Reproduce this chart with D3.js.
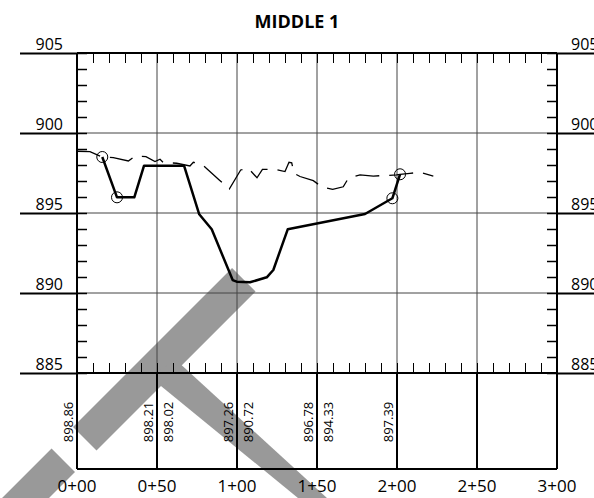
<!DOCTYPE html>
<html>
<head>
<meta charset="utf-8">
<script src="https://cdn.jsdelivr.net/npm/d3@7"></script>
<style>
  body { margin: 0; background: #fff; }
  text { font-family: "Open Sans", "Noto Sans", sans-serif; fill: #000; }
</style>
</head>
<body>
<svg id="chart"></svg>
<script>
// section data
var title = "MIDDLE 1";
var stations = [0, 50, 100, 150, 200, 250, 300];
var stationLabels = ["0+00", "0+50", "1+00", "1+50", "2+00", "2+50", "3+00"];
var elevTicks = [885, 890, 895, 900, 905];

// existing ground (dashed)
var groundStations = [0, 8.1, 15.8, 22.7, 32.1, 36.25, 43.1, 48.75, 51.9, 53.9, 62.3, 70.6, 72.7, 78.6, 88.9, 95.2, 102.3,
    107.1, 112.5, 115.9, 123.75, 130, 132.5, 134.2, 135.6, 139.4, 147.7, 152.9, 159.8, 166.4, 169.6, 176.9, 185.2,
    199.8, 201.9, 208.1, 214.4, 222.7];
var groundElevs = [898.86, 898.83, 898.5, 898.46, 898.25, 898.56, 898.52, 898.22, 898.36, 898.16, 898.11, 897.94, 898.17, 898.0, 897.06, 896.5, 897.69,
    897.79, 897.2, 897.73, 897.73, 897.59, 898.17, 898.14, 897.48, 897.28, 897.02, 896.64, 896.48, 896.64, 897.17, 897.38, 897.31,
    897.38, 897.42, 897.48, 897.54, 897.31];

// proposed section (solid)
var designStations = [15.8, 25, 35.8, 41.9, 66.9, 76.4, 84.2, 97.3, 99.8, 108.1, 118.6, 122.7, 131.7, 180, 197.1, 201.9];
var designElevs = [898.5, 895.98, 895.98, 897.96, 897.96, 894.92, 893.98, 890.81, 890.71, 890.67, 890.98, 891.44, 893.98, 894.94, 895.92, 897.42];

// catch points
var catchStations = [15.8, 25, 197.1, 201.9];
var catchElevs = [898.5, 895.98, 895.92, 897.42];

// table values
var groundLabelStations = [0, 50, 100, 150, 200];
var groundLabelValues = ["898.86", "898.21", "897.26", "896.78", "897.39"];
var designLabelStations = [50, 100, 150];
var designLabelValues = ["898.02", "890.72", "894.33"];

// grey overlay bands (station, elevation)
var overlayBands = [
    [[96.9, 891.56], [111.6, 890.09], [12.2, 880.16], [-2.5, 881.63]],
    [[-15.9, 880.28], [-1.25, 878.81], [-31.25, 875.81], [-60.6, 875.81]],
    [[45.6, 884.75], [61.9, 885.81], [164.4, 876.44], [147.25, 876.44]]
];

var W = 594, H = 498;
var plotL = 77, plotR = 557, plotT = 53, plotB = 373, tableH = 96;

var svg = d3.select("#chart").attr("width", W).attr("height", H);

var x = d3.scaleLinear().domain([0, 300]).range([plotL, plotR]);
var y = d3.scaleLinear().domain([885, 905]).range([plotB, plotT]);

// overlay bands underneath
svg.append("g").selectAll("path")
    .data(overlayBands)
    .enter().append("path")
    .attr("d", function (d) { return d3.line().x(p => x(p[0])).y(p => y(p[1]))(d) + "Z"; })
    .attr("fill", "#999");

// grid
var grid = svg.append("g").attr("stroke", "#444").attr("stroke-width", 1);
grid.selectAll(".h").data([890, 895, 900]).enter().append("line")
    .attr("x1", plotL).attr("x2", plotR)
    .attr("y1", d => y(d)).attr("y2", d => y(d));
grid.selectAll(".v").data([50, 100, 150, 200, 250]).enter().append("line")
    .attr("x1", d => x(d)).attr("x2", d => x(d))
    .attr("y1", plotT).attr("y2", plotB);

// minor ticks
function clean(g) { g.select(".domain").remove(); g.selectAll("text").remove(); }
svg.append("g").attr("transform", "translate(" + plotL + ",0)")
    .call(d3.axisLeft(y).tickValues(d3.range(885, 906, 1)).tickSize(-10).tickSizeOuter(0)).call(clean)
    .selectAll("line").attr("stroke-width", 1.5);
svg.append("g").attr("transform", "translate(" + plotR + ",0)")
    .call(d3.axisRight(y).tickValues(d3.range(885, 906, 1)).tickSize(-10).tickSizeOuter(0)).call(clean)
    .selectAll("line").attr("stroke-width", 1.5);
svg.append("g").attr("transform", "translate(0," + plotT + ")")
    .call(d3.axisTop(x).tickValues(d3.range(0, 301, 10)).tickSize(-10).tickSizeOuter(0)).call(clean);
svg.append("g").attr("transform", "translate(0," + plotB + ")")
    .call(d3.axisBottom(x).tickValues(d3.range(0, 301, 10)).tickSize(-10).tickSizeOuter(0)).call(clean);

// major elevation lines outside the frame
svg.append("g").attr("transform", "translate(" + plotL + ",0)")
    .call(d3.axisLeft(y).tickValues(elevTicks).tickSize(plotL - 20)).call(clean)
    .selectAll("line").attr("stroke-width", 2);
svg.append("g").attr("transform", "translate(" + plotR + ",0)")
    .call(d3.axisRight(y).tickValues(elevTicks).tickSize(W - plotR)).call(clean)
    .selectAll("line").attr("stroke-width", 2);

svg.append("g").selectAll("text").data(elevTicks).enter().append("text")
    .attr("x", plotL - 14).attr("y", d => y(d) - 3)
    .attr("text-anchor", "end").attr("font-size", 16)
    .text(d => d);
svg.append("g").selectAll("text").data(elevTicks).enter().append("text")
    .attr("x", plotR + 14).attr("y", d => y(d) - 3)
    .attr("font-size", 16)
    .text(d => d);

// frame and table
var frame = svg.append("g").attr("stroke", "#000").attr("stroke-width", 2).attr("fill", "none");
frame.append("line").attr("x1", plotL).attr("x2", plotR).attr("y1", plotT).attr("y2", plotT);
frame.append("line").attr("x1", plotL).attr("x2", plotR).attr("y1", plotB).attr("y2", plotB);
frame.append("line").attr("x1", plotL).attr("x2", plotR).attr("y1", plotB + tableH).attr("y2", plotB + tableH);
frame.append("line").attr("x1", plotL).attr("x2", plotL).attr("y1", plotT).attr("y2", plotB + tableH);
frame.append("line").attr("x1", plotR).attr("x2", plotR).attr("y1", plotT).attr("y2", plotB + tableH);
frame.selectAll(".tv").data(stations.slice(1, -1)).enter().append("line")
    .attr("x1", d => x(d)).attr("x2", d => x(d))
    .attr("y1", plotB).attr("y2", plotB + tableH);

// existing ground
var line = d3.line().x(d => x(d[0])).y(d => y(d[1]));
svg.append("path")
    .attr("d", line(d3.zip(groundStations, groundElevs)))
    .attr("fill", "none").attr("stroke", "#000").attr("stroke-width", 1.3)
    .attr("stroke-dasharray", "24,10");

// proposed
svg.append("path")
    .attr("d", line(d3.zip(designStations, designElevs)))
    .attr("fill", "none").attr("stroke", "#000").attr("stroke-width", 2.5)
    .attr("stroke-linejoin", "round");

svg.append("g").selectAll("circle").data(d3.zip(catchStations, catchElevs)).enter().append("circle")
    .attr("cx", d => x(d[0])).attr("cy", d => y(d[1])).attr("r", 5.5)
    .attr("fill", "none").attr("stroke", "#000").attr("stroke-width", 1);

// table labels
var midY = plotB + 49;
svg.append("g").selectAll("text").data(d3.zip(groundLabelStations, groundLabelValues)).enter().append("text")
    .attr("transform", d => "translate(" + (x(d[0]) - 4) + "," + midY + ") rotate(-90)")
    .attr("text-anchor", "middle").attr("font-size", 13)
    .text(d => d[1]);
svg.append("g").selectAll("text").data(d3.zip(designLabelStations, designLabelValues)).enter().append("text")
    .attr("transform", d => "translate(" + (x(d[0]) + 16) + "," + midY + ") rotate(-90)")
    .attr("text-anchor", "middle").attr("font-size", 13)
    .text(d => d[1]);

svg.append("g").selectAll("text").data(d3.zip(stations, stationLabels)).enter().append("text")
    .attr("x", d => x(d[0])).attr("y", plotB + tableH + 23)
    .attr("text-anchor", "middle").attr("font-size", 17)
    .text(d => d[1]);

svg.append("text").attr("x", W / 2).attr("y", 28)
    .attr("text-anchor", "middle").attr("font-size", 18).attr("font-weight", "bold")
    .text(title);
</script>
</body>
</html>
